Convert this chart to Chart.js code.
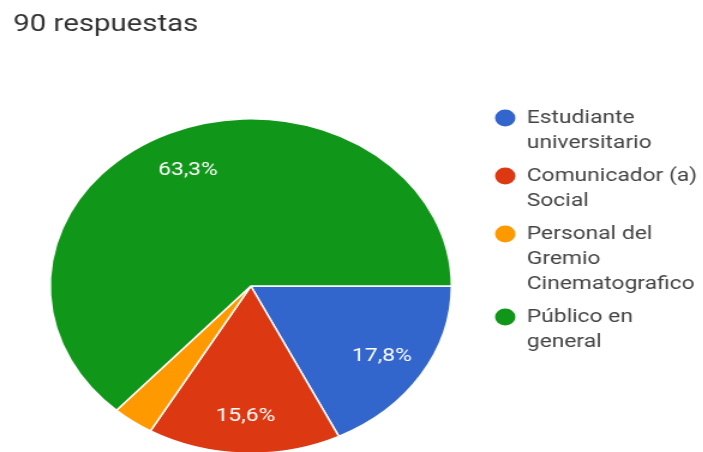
<!DOCTYPE html>
<html>
<head>
<meta charset="utf-8">
<script src="https://cdn.jsdelivr.net/npm/chart.js@4"></script>
<style>
  html, body { margin: 0; padding: 0; background: #fff; overflow: hidden; }
  #wrap { width: 586px; height: 470px; transform: scaleX(1.2); transform-origin: 0 0; }
</style>
</head>
<body>
<div id="wrap"><canvas id="pieChart" width="586" height="470"></canvas></div>
<script>
const titleText = '90 respuestas';
const categories = [
  ['Estudiante', 'universitario'],
  ['Comunicador (a)', 'Social'],
  ['Personal del', 'Gremio', 'Cinematografico'],
  ['Público en', 'general']
];
const responses = [16, 14, 3, 57];
const sliceColors = ['#3366cc', '#dc3912', '#ff9900', '#109618'];

const fontFamily = "Roboto, 'Noto Sans', sans-serif";

// título arriba a la izquierda
const titlePlugin = {
  id: 'titleText',
  afterDraw(chart) {
    const ctx = chart.ctx;
    ctx.save();
    ctx.font = '24.5px ' + fontFamily;
    ctx.fillStyle = '#333';
    ctx.textAlign = 'left';
    ctx.textBaseline = 'alphabetic';
    ctx.fillText(titleText, 11, 31);
    ctx.restore();
  }
};

// porcentajes dentro de cada sector
const percentPlugin = {
  id: 'percentLabels',
  afterDatasetsDraw(chart) {
    const ctx = chart.ctx;
    const data = chart.data.datasets[0].data;
    const total = data.reduce((a, b) => a + b, 0);
    const meta = chart.getDatasetMeta(0);
    ctx.save();
    ctx.font = '19px ' + fontFamily;
    ctx.fillStyle = '#fff';
    ctx.textAlign = 'center';
    ctx.textBaseline = 'middle';
    meta.data.forEach((arc, i) => {
      const pct = data[i] / total * 100;
      if (pct < 5) return;
      const p = arc.getProps(['x', 'y', 'startAngle', 'endAngle', 'outerRadius'], true);
      const mid = (p.startAngle + p.endAngle) / 2;
      const r = p.outerRadius * 0.77;
      const txt = pct.toFixed(1).replace('.', ',') + '%';
      ctx.fillText(txt, p.x + Math.cos(mid) * r, p.y + Math.sin(mid) * r + 2);
    });
    ctx.restore();
  }
};

// leyenda a la derecha con etiquetas de varias líneas
const legendPlugin = {
  id: 'sideLegend',
  afterDraw(chart) {
    const ctx = chart.ctx;
    const colors = chart.data.datasets[0].backgroundColor;
    let y = 118;
    ctx.save();
    ctx.font = '19px ' + fontFamily;
    ctx.textAlign = 'left';
    ctx.textBaseline = 'middle';
    chart.data.labels.forEach((lines, i) => {
      ctx.fillStyle = colors[i];
      ctx.beginPath();
      ctx.arc(421, y, 8.5, 0, Math.PI * 2);
      ctx.fill();
      ctx.fillStyle = '#444';
      lines.forEach((line, j) => {
        ctx.fillText(line, 439, y);
        y += (j < lines.length - 1) ? 25 : 33;
      });
    });
    ctx.restore();
  }
};

new Chart(document.getElementById('pieChart'), {
  type: 'pie',
  data: {
    labels: categories,
    datasets: [{
      data: responses,
      backgroundColor: sliceColors,
      borderColor: '#fff',
      borderWidth: 1.5
    }]
  },
  options: {
    responsive: false,
    animation: false,
    rotation: 90,
    layout: { padding: { left: 41, right: 209, top: 118, bottom: 16 } },
    plugins: {
      legend: { display: false },
      title: { display: false },
      tooltip: { enabled: false }
    }
  },
  plugins: [titlePlugin, percentPlugin, legendPlugin]
});
</script>
</body>
</html>
